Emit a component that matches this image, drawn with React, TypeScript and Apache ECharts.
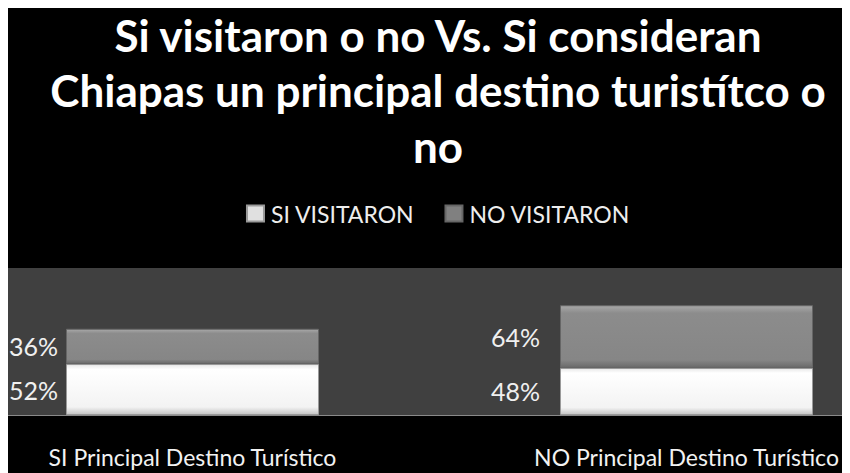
import React, { useEffect, useRef } from "react";
import * as echarts from "echarts";

const titleLines = [
  "Si visitaron o no Vs. Si consideran",
  "Chiapas un principal destino turistítco o",
  "no",
];
const categories = ["SI Principal Destino Turístico", "NO Principal Destino Turístico"];
const seriesNames = ["SI VISITARON", "NO VISITARON"];
const siVisitaron = [52, 48];
const noVisitaron = [36, 64];

const FONT = "Lato";

export default function App() {
  const ref = useRef<HTMLDivElement>(null);
  useEffect(() => {
    document.body.style.overflow = "hidden";
    const chart = echarts.init(ref.current!, null, { renderer: "svg" });
    const labelGap = [8, 20];
    const titleTop = [5, 60, 116];
    const whiteFill = new echarts.graphic.LinearGradient(0, 0, 0, 1, [
      { offset: 0, color: "#e8e8e8" },
      { offset: 0.1, color: "#ffffff" },
      { offset: 0.85, color: "#f3f3f3" },
      { offset: 1, color: "#c4c4c4" },
    ]);
    const grayFill = new echarts.graphic.LinearGradient(0, 0, 0, 1, [
      { offset: 0, color: "#a9a9a9" },
      { offset: 0.12, color: "#8c8c8c" },
      { offset: 0.88, color: "#868686" },
      { offset: 1, color: "#6a6a6a" },
    ]);
    const mk = (vals: number[]) =>
      vals.map((v, i) => ({ value: v, label: { distance: labelGap[i] } }));
    const labelStyle = {
      show: true,
      position: "left",
      color: "#f0f0f0",
      fontFamily: FONT,
      fontSize: 25,
      formatter: (p: any) => p.value + "%",
    };
    chart.setOption({
      animation: false,
      backgroundColor: "#000000",
      title: titleLines.map((t, i) => ({
        text: t,
        left: "center",
        top: titleTop[i],
        padding: 0,
        textStyle: {
          color: "#ffffff",
          fontFamily: FONT,
          fontWeight: "bold",
          fontSize: 44,
          lineHeight: 44,
        },
      })),
      legend: {
        data: [
          { name: seriesNames[0], itemStyle: { color: "#e0e0e0" } },
          { name: seriesNames[1], itemStyle: { color: "#808080" } },
        ],
        top: 189,
        left: "center",
        itemWidth: 17,
        itemHeight: 16,
        itemGap: 30,
        icon: "rect",
        textStyle: {
          color: "#eeeeee",
          fontFamily: FONT,
          fontSize: 23,
          padding: [0, 0, 0, 2],
        },
      },
      grid: {
        left: -62.5,
        right: -65.5,
        top: 260,
        bottom: 58,
        show: true,
        backgroundColor: "#404040",
        borderWidth: 0,
        outerBoundsMode: "none",
        containLabel: false,
      },
      xAxis: {
        type: "category",
        data: categories,
        axisLine: { show: true, lineStyle: { color: "#8a8a8a", width: 1 } },
        axisTick: { show: false },
        axisLabel: {
          color: "#f2f2f2",
          fontFamily: FONT,
          fontSize: 23,
          margin: 30,
          interval: 0,
        },
      },
      yAxis: {
        type: "value",
        min: 0,
        max: 150,
        show: false,
        splitLine: { show: false },
      },
      series: [
        {
          name: seriesNames[0],
          type: "bar",
          stack: "total",
          barWidth: 253,
          data: mk(siVisitaron),
          itemStyle: { color: whiteFill, borderColor: "#9a9a9a", borderWidth: 1 },
          label: labelStyle,
        },
        {
          name: seriesNames[1],
          type: "bar",
          stack: "total",
          barWidth: 253,
          data: mk(noVisitaron),
          itemStyle: { color: grayFill, borderColor: "#666666", borderWidth: 1 },
          label: labelStyle,
        },
      ],
    });
    return () => chart.dispose();
  }, []);
  return <div ref={ref} style={{ width: 860, height: 465 }} />;
}
